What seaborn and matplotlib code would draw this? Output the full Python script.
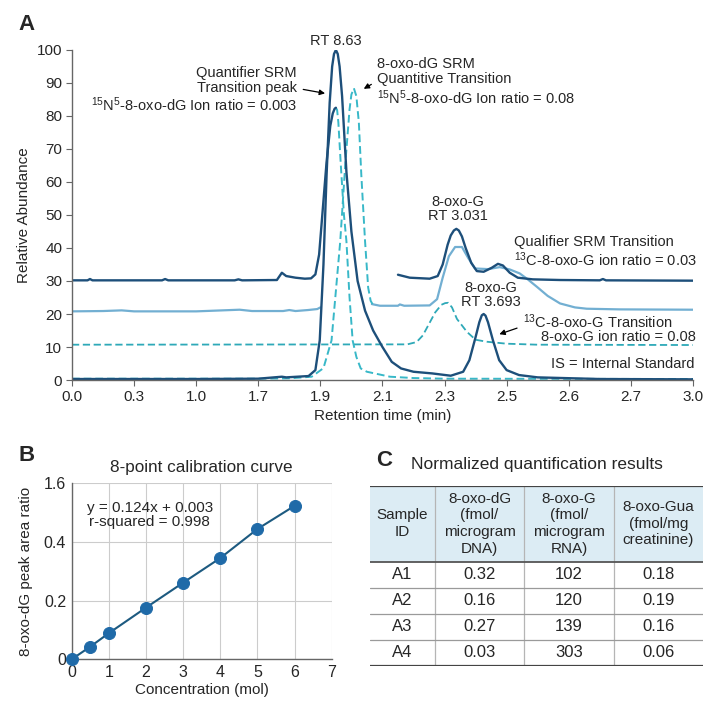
import matplotlib
matplotlib.use("Agg")
import matplotlib.pyplot as plt
import seaborn as sns

sns.set_theme(style="white")
plt.rcParams['font.family'] = ['Liberation Sans', 'DejaVu Sans']
plt.rcParams['mathtext.fontset'] = 'custom'
plt.rcParams['mathtext.rm'] = 'Liberation Sans'
plt.rcParams['mathtext.it'] = 'Liberation Sans:italic'

# ---- panel A : chromatogram (x in tick-slot units, ticks are not linear in time)
time_labels = ["0.0", "0.3", "1.0", "1.7", "1.9", "2.1", "2.3", "2.5", "2.6", "2.7", "3.0"]

# internal standard trace, baseline 0 (peak RT 8.63 and 8-oxo-G RT 3.693)
is_x = [0, 2.0, 3.0, 3.38, 3.45, 3.81, 3.92, 3.99, 4.05, 4.10, 4.15, 4.19, 4.22, 4.25, 4.28, 4.31,
        4.35, 4.42, 4.50, 4.60, 4.72, 4.85, 5.00, 5.15, 5.30, 5.50, 5.80, 6.10, 6.30, 6.40, 6.50,
        6.56, 6.60, 6.63, 6.66, 6.70, 6.78, 6.88, 7.00, 7.20, 7.50, 8.50, 10]
is_y = [0.3, 0.3, 0.4, 1.0, 0.8, 1.2, 3, 12, 35, 62, 84, 95, 98.8, 100, 98.8, 95,
        86, 63, 45, 30, 21, 15, 10, 5.5, 3.5, 2.5, 2.0, 1.3, 2.5, 6, 13,
        17.5, 19.6, 20, 19.5, 17.5, 12, 6, 3, 1.5, 0.8, 0.3, 0.2]

# qualifier trace, baseline 30
qual_x1 = [0, 0.25, 0.29, 0.33, 1.45, 1.50, 1.55, 2.62, 2.68, 2.74, 3.30, 3.38, 3.45, 3.60, 3.75,
           3.85, 3.92, 3.98, 4.04, 4.10, 4.16, 4.20, 4.23, 4.25]
qual_y1 = [30.2, 30.2, 30.6, 30.2, 30.2, 30.6, 30.2, 30.2, 30.5, 30.2, 30.3, 32.5, 31.5, 31.0, 30.7,
           30.8, 32, 38, 52, 66, 77, 80.8, 82.2, 82.5]
qual_x2 = [5.25, 5.44, 5.76, 5.89, 5.97, 6.05, 6.10, 6.15, 6.19, 6.23, 6.28, 6.34, 6.43, 6.52,
           6.63, 6.76, 6.86, 6.94, 7.05, 7.18, 7.42, 7.86, 8.50, 8.55, 8.60, 10]
qual_y2 = [31.9, 31.0, 30.7, 31.5, 35, 41, 43.8, 45.3, 45.8, 45.3, 43.5, 40, 35.5, 33,
           32.8, 34, 35.2, 34.7, 32.5, 31, 30.5, 30.3, 30.2, 30.6, 30.2, 30.1]

# light trace, baseline 21
light_x1 = [0, 0.5, 0.8, 1.0, 2.0, 2.7, 2.9, 3.4, 3.5, 3.6, 3.8, 3.95, 4.0]
light_y1 = [20.8, 20.9, 21.1, 20.8, 20.8, 21.3, 20.9, 20.9, 21.2, 20.9, 21.2, 21.5, 22]
light_x2 = [4.83, 4.96, 5.25, 5.28, 5.35, 5.76, 5.88, 5.97, 6.07, 6.17, 6.28, 6.38, 6.49, 6.70,
            6.89, 7.05, 7.21, 7.34, 7.49, 7.66, 7.86, 8.10, 8.29, 8.82, 10]
light_y2 = [23, 22.5, 22.5, 22.9, 22.5, 22.6, 24.5, 31, 37.5, 40.3, 40.3, 37, 33.8, 33.6,
            34.2, 33.5, 32.3, 30.5, 28.2, 25.5, 23.2, 22.0, 21.6, 21.4, 21.3]

# dashed quantitive transition (peak 88)
quant_x = [0, 3.0, 3.5, 3.86, 4.05, 4.18, 4.32, 4.40, 4.47, 4.50, 4.54, 4.58, 4.62, 4.66, 4.72,
           4.77, 4.81, 4.84]
quant_y = [0.4, 0.4, 0.5, 1.0, 3.6, 12, 42, 65, 82, 86.5, 88.4, 86, 78, 62, 42,
           28, 24, 23]

# dashed tail of the inner peak
tail_x = [4.25, 4.27, 4.29, 4.33, 4.38, 4.42, 4.47, 4.52, 4.58, 4.65, 4.75, 5.12, 5.5, 6.0, 10]
tail_y = [82.5, 81.8, 78, 65, 50, 42, 25, 12, 7, 3.5, 2.5, 1.0, 0.6, 0.4, 0.3]

# dashed 13C transition, baseline 10.6
c13_x = [0, 5.40, 5.55, 5.65, 5.75, 5.85, 5.95, 6.01, 6.06, 6.12, 6.20, 6.36, 6.50, 6.68, 7.0,
         7.5, 10]
c13_y = [10.7, 10.8, 11.5, 13.5, 17, 20.5, 22.8, 23.3, 23.4, 22, 18.5, 14.6, 12.2, 11.6, 11.0,
         10.7, 10.6]

# ---- panel B : calibration curve
conc = [0, 0.5, 1, 2, 3, 4, 5, 6]
ratio = [0.0, 0.043, 0.089, 0.176, 0.261, 0.345, 0.444, 0.523]
b_yticks = [0, 0.2, 0.4, 0.6]
b_ylabels = ["0", "0.2", "0.4", "1.6"]

# ---- panel C : table
sample_ids = ["A1", "A2", "A3", "A4"]
oxo_dg = ["0.32", "0.16", "0.27", "0.03"]
oxo_g = ["102", "120", "139", "303"]
oxo_gua = ["0.18", "0.19", "0.16", "0.06"]
col_headers = ["Sample\nID", "8-oxo-dG\n(fmol/\nmicrogram\nDNA)",
               "8-oxo-G\n(fmol/\nmicrogram\nRNA)", "8-oxo-Gua\n(fmol/mg\ncreatinine)"]

NAVY = "#1d4f7a"
LIGHT = "#72afd2"
CYAN = "#38b8c8"
SPINE = "#666666"

fig = plt.figure(figsize=(7.17, 7.17), dpi=100)

# ================= A
ax = fig.add_axes([0.1004, 0.470, 0.866, 0.4603])


def trace(x, y, color, dashed=False, lw=1.5):
    sns.lineplot(x=x, y=y, ax=ax, color=color, lw=lw, sort=False, estimator=None,
                 linestyle=(0, (4, 2)) if dashed else '-')


trace(c13_x, c13_y, "#2ea9b8", dashed=True, lw=1.3)
trace(light_x1, light_y1, LIGHT, lw=1.6)
trace(light_x2, light_y2, LIGHT, lw=1.6)
trace(quant_x, quant_y, CYAN, dashed=True, lw=1.4)
trace(tail_x, tail_y, CYAN, dashed=True, lw=1.4)
trace(is_x, is_y, NAVY, lw=1.7)
trace(qual_x1, qual_y1, NAVY, lw=1.7)
trace(qual_x2, qual_y2, NAVY, lw=1.7)

ax.set_xlim(0, 10)
ax.set_ylim(0, 100)
ax.set_xticks(range(len(time_labels)))
ax.set_xticklabels(time_labels)
ax.set_yticks(range(0, 101, 10))
ax.tick_params(axis='both', labelsize=11, length=4, width=0.8, color=SPINE, pad=3, direction='out',
               bottom=True, left=True)
for s in ['top', 'right']:
    ax.spines[s].set_visible(False)
for s in ['left', 'bottom']:
    ax.spines[s].set_color(SPINE)
    ax.spines[s].set_linewidth(1.0)
ax.set_xlabel("Retention time (min)", fontsize=11, labelpad=4)
ax.set_ylabel("Relative Abundance", fontsize=11, labelpad=4)

fs = 10.5
ax.text(4.25, 102.8, "RT 8.63", ha='center', va='center', fontsize=fs, clip_on=False)
ax.text(3.62, 90.8, "Quantifier SRM\nTransition peak", ha='right', va='center', fontsize=fs,
        linespacing=1.05)
ax.text(3.62, 83.4, r"$\mathregular{^{15}}$N$\mathregular{^{5}}$-8-oxo-dG Ion ratio = 0.003",
        ha='right', va='center', fontsize=fs)
ax.annotate("", xy=(4.12, 86.7), xytext=(3.68, 88.2),
            arrowprops=dict(arrowstyle='-|>', color='black', lw=0.9, mutation_scale=8))
ax.text(4.91, 93.4, "8-oxo-dG SRM\nQuantitive Transition", ha='left', va='center', fontsize=fs,
        linespacing=1.05)
ax.text(4.91, 85.5, r"$\mathregular{^{15}}$N$\mathregular{^{5}}$-8-oxo-dG Ion ratio = 0.08",
        ha='left', va='center', fontsize=fs)
ax.annotate("", xy=(4.66, 87.8), xytext=(4.86, 90.0),
            arrowprops=dict(arrowstyle='-|>', color='black', lw=0.9, mutation_scale=8))
ax.text(6.22, 51.8, "8-oxo-G\nRT 3.031", ha='center', va='center', fontsize=fs, linespacing=1.05)
ax.text(7.12, 41.7, "Qualifier SRM Transition", ha='left', va='center', fontsize=fs)
ax.text(7.12, 36.6, r"$\mathregular{^{13}}$C-8-oxo-G ion ratio = 0.03", ha='left', va='center',
        fontsize=fs)
ax.text(6.75, 25.7, "8-oxo-G\nRT 3.693", ha='center', va='center', fontsize=fs, linespacing=1.05)
ax.text(7.26, 17.8, r"$\mathregular{^{13}}$C-8-oxo-G Transition", ha='left', va='center', fontsize=fs)
ax.text(10.05, 13.0, "8-oxo-G ion ratio = 0.08", ha='right', va='center', fontsize=fs, clip_on=False)
ax.annotate("", xy=(6.84, 13.6), xytext=(7.21, 16.0),
            arrowprops=dict(arrowstyle='-|>', color='black', lw=0.9, mutation_scale=8))
ax.text(10.03, 4.8, "IS = Internal Standard", ha='right', va='center', fontsize=fs, clip_on=False)

fig.text(18 / 717, 1 - 25 / 717, "A", fontsize=16, fontweight='bold', ha='left', va='center')

# ================= B
bx = fig.add_axes([0.1, 0.0805, 0.3626, 0.2455])
sns.lineplot(x=conc, y=ratio, ax=bx, color="#1d5a80", lw=1.5, zorder=3)
sns.scatterplot(x=conc, y=ratio, ax=bx, color="#1f6aa8", s=75, edgecolor="#1f6aa8", zorder=4,
                clip_on=False)
bx.set_xlim(0, 7)
bx.set_ylim(0, 0.6)
bx.set_xticks(range(0, 8))
bx.set_yticks(b_yticks)
bx.set_yticklabels(b_ylabels)
bx.grid(True, color="#cccccc", lw=0.8)
bx.set_axisbelow(True)
for s in ['top', 'right']:
    bx.spines[s].set_visible(False)
for s in ['left', 'bottom']:
    bx.spines[s].set_color(SPINE)
    bx.spines[s].set_linewidth(1.0)
bx.tick_params(axis='both', labelsize=11.5, length=0, pad=4)
bx.set_xlabel("Concentration (mol)", fontsize=11, labelpad=2)
bx.set_ylabel("8-oxo-dG peak area ratio", fontsize=11, labelpad=8)
bx.set_title("8-point calibration curve", fontsize=12.3, pad=8)
bx.text(2.1, 0.492, "y = 0.124x + 0.003\nr-squared = 0.998", ha='center', va='center', fontsize=11,
        linespacing=1.05)
fig.text(18 / 717, 1 - 455 / 717, "B", fontsize=16, fontweight='bold', ha='left', va='center')

# ================= C
cx = fig.add_axes([370 / 717, 1 - 666 / 717, 333 / 717, 180.3 / 717])
cx.axis('off')
rows = [[sample_ids[i], oxo_dg[i], oxo_g[i], oxo_gua[i]] for i in range(len(sample_ids))]
col_w = [65, 89.3, 89.7, 89.3]
col_w = [w / sum(col_w) for w in col_w]
tbl = cx.table(cellText=rows, colLabels=col_headers, cellLoc='center', colWidths=col_w,
               bbox=[0, 0, 1, 1])
tbl.auto_set_font_size(False)
head_h, row_h = 76, 26.1
for (r, c), cell in tbl.get_celld().items():
    cell.set_linewidth(0)
    cell.set_edgecolor("none")
    txt = cell.get_text()
    txt.set_multialignment('center')
    if r == 0:
        cell.set_height(head_h)
        cell.set_facecolor("#dcecf4")
        txt.set_fontsize(11)
        txt.set_linespacing(1.25)
    else:
        cell.set_height(row_h)
        cell.set_facecolor("white")
        txt.set_fontsize(12)
total = head_h + row_h * len(rows)
cx.set_xlim(0, 1)
cx.set_ylim(0, 1)
# grid lines of the table
xb = 0
for w in col_w[:-1]:
    xb += w
    cx.axvline(xb, color="#b5b5b5", lw=0.9)
for i in range(1, len(rows)):
    cx.axhline(i * row_h / total, color="#9a9a9a", lw=0.9)
cx.axhline(1, color="#444444", lw=1.6)
cx.axhline(0, color="#444444", lw=1.6)
cx.axhline(1 - head_h / total, color="#555555", lw=1.3)
fig.text(537 / 717, 1 - 464 / 717, "Normalized quantification results", fontsize=12.5,
         ha='center', va='center')
fig.text(376 / 717, 1 - 460 / 717, "C", fontsize=16, fontweight='bold', ha='left', va='center')

fig.savefig("out.png", dpi=100)
